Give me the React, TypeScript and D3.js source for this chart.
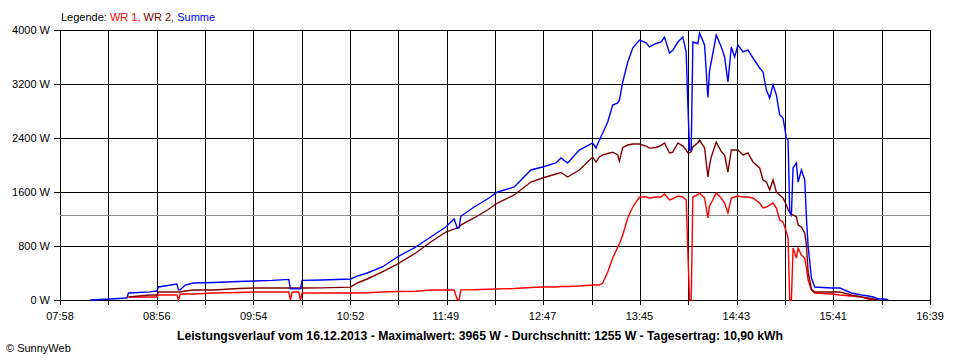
import React from "react";
import * as d3 from "d3";

const TIMES = [
  "08:16","08:28","08:38","08:39","08:52","08:56","08:57","09:08","09:09","09:10",
  "09:13","09:18","09:30","09:45","09:54","10:05","10:15","10:16","10:17","10:21",
  "10:22","10:23","10:35","10:52","10:56","11:02","11:11","11:20","11:31","11:40",
  "11:49","11:54","11:56","11:57","11:58","12:06","12:14","12:20","12:30","12:40",
  "12:47","12:55","12:58","13:02","13:09","13:17","13:19","13:21","13:23","13:26",
  "13:29","13:32","13:33","13:35","13:38","13:41","13:45","13:49","13:51","13:55",
  "13:58","14:00","14:03","14:05","14:08","14:11","14:13","14:14","14:15","14:16",
  "14:17","14:20","14:21","14:24","14:26","14:27","14:28","14:31","14:34","14:36",
  "14:38","14:40","14:42","14:44","14:47","14:50","14:53","14:57","14:59","15:01",
  "15:03","15:05","15:07","15:09","15:11","15:13","15:14","15:15","15:16","15:17",
  "15:19","15:20","15:22","15:24","15:25","15:26","15:28","15:30","15:40","15:45",
  "15:52","15:58","16:02","16:05","16:08","16:12","16:14"
];

const WR1: (number | null)[] = [
  null,null,null,44,44,44,74,74,0,89,
  89,89,104,111,118,118,118,0,118,118,
  0,104,104,104,104,108,118,125,130,148,
  148,148,0,0,150,152,160,163,170,185,
  193,193,200,200,207,222,222,222,252,415,
  622,785,830,963,1215,1378,1526,1526,1511,1526,
  1526,1570,1481,1500,1541,1526,1481,711,0,0,
  1526,1560,1585,1511,1215,1400,1437,1585,1511,1437,
  1289,1511,1526,1541,1526,1526,1511,1437,1363,1378,
  1407,1437,1363,1185,1156,1007,919,0,0,770,
  622,770,667,622,474,296,148,104,89,74,
  59,44,15,0,null,null,null
];

const WR2: (number | null)[] = [
  null,null,null,44,74,74,119,119,119,118,
  133,148,148,170,178,178,178,178,178,178,
  178,178,180,190,252,311,415,533,696,859,
  1007,1050,1070,1075,1111,1215,1333,1437,1556,1748,
  1807,1867,1890,1822,1926,2119,2044,2119,2150,2170,
  2190,2148,2060,2260,2296,2311,2311,2280,2250,2260,
  2290,2326,2178,2190,2326,2280,2220,2180,2180,2200,
  2267,2330,2370,2252,1822,2000,2119,2341,2200,2148,
  1896,2222,2222,2222,2148,2178,2044,1956,1778,1748,
  1630,1778,1600,1556,1511,1407,1333,1304,1259,1259,
  1230,1111,1081,993,815,415,160,119,119,119,
  74,44,30,15,0,null,null
];

const SUMME: (number | null)[] = [
  0,15,30,104,120,133,193,237,150,150,
  222,252,260,275,281,290,305,165,165,165,
  165,290,296,311,355,400,489,637,785,933,
  1081,1200,1060,1070,1240,1378,1496,1600,1674,1926,
  1970,2030,2104,2030,2222,2326,2252,2370,2474,2637,
  2889,2919,2960,3230,3526,3733,3852,3810,3750,3800,
  3822,3896,3659,3700,3822,3896,3674,2889,2222,2222,
  3822,3800,3956,3778,3000,3400,3526,3926,3750,3600,
  3230,3748,3600,3778,3674,3704,3585,3437,3378,3111,
  2993,3185,3037,2741,2696,2400,2370,1304,1259,1955,
  2030,1748,1926,1778,1215,800,326,193,178,178,
  104,74,59,44,15,15,0
];

const X_TICKS = ["07:58","08:56","09:54","10:52","11:49","12:47","13:45","14:43","15:41","16:39"];
const Y_TICKS = [0, 800, 1600, 2400, 3200, 4000];
const AVERAGE = 1255;
const TITLE = "Leistungsverlauf vom 16.12.2013 - Maximalwert: 3965 W - Durchschnitt: 1255 W - Tagesertrag: 10,90 kWh";

const SERIES = [
  { name: "WR 1", values: WR1, color: "#ff0000" },
  { name: "WR 2", values: WR2, color: "#800000" },
  { name: "Summe", values: SUMME, color: "#0000ff" },
];

const toMin = (s: string) => {
  const [h, m] = s.split(":").map(Number);
  return h * 60 + m;
};

export default function App() {
  const W = 960, H = 360;
  const left = 60, right = 930, top = 30, bottom = 300;
  const font = "'Liberation Sans', Arial, sans-serif";

  const x = d3.scaleLinear().domain([toMin(X_TICKS[0]), toMin(X_TICKS[X_TICKS.length - 1])]).range([left, right]);
  const y = d3.scaleLinear().domain([0, 4000]).range([bottom, top]);

  const [d0, d1] = x.domain();
  const gridTimes = d3.range(19).map((k) => d0 + (k * (d1 - d0)) / 18);
  const px = (v: number) => Math.round(v) + 0.5;

  const tmins = TIMES.map(toMin);

  const line = d3
    .line<number | null>()
    .defined((d) => d !== null)
    .x((_, i) => x(tmins[i]))
    .y((d) => y(d as number))
    .curve(d3.curveLinear);

  return (
    <svg
      width={W}
      height={H}
      style={{ position: "absolute", left: 0, top: 0, background: "#fff" }}
      fontFamily={font}
    >
      <rect x={0} y={0} width={W} height={H} fill="#fff" />
      {/* vertical grid */}
      {gridTimes.map((t, i) => (
        <line key={"vg" + i} x1={px(x(t))} x2={px(x(t))} y1={top} y2={bottom + 5} stroke="#000" strokeWidth={1} shapeRendering="crispEdges" />
      ))}
      {/* horizontal grid */}
      {Y_TICKS.map((v) => (
        <line key={"hg" + v} x1={left - 6} x2={right + 0.5} y1={px(y(v))} y2={px(y(v))} stroke="#000" strokeWidth={1} shapeRendering="crispEdges" />
      ))}
      {/* average line */}
      <line x1={left} x2={right} y1={px(y(AVERAGE))} y2={px(y(AVERAGE))} stroke="#8c8c8c" strokeWidth={1} shapeRendering="crispEdges" />
      {/* series */}
      {SERIES.map((s) => (
        <path key={s.name} d={line(s.values) || ""} fill="none" stroke={s.color} strokeWidth={1.4} strokeLinejoin="miter" />
      ))}
      {/* y labels */}
      {Y_TICKS.map((v) => (
        <text key={"yl" + v} x={50} y={y(v) + 4} textAnchor="end" fontSize={11} fill="#000">
          {v + " W"}
        </text>
      ))}
      {/* x labels */}
      {X_TICKS.map((l) => (
        <text key={"xl" + l} x={x(toMin(l))} y={320} textAnchor="middle" fontSize={11} fill="#000">
          {l}
        </text>
      ))}
      {/* legend */}
      <text x={61} y={21} fontSize={11}>
        <tspan fill="#000">Legende: </tspan>
        <tspan fill="#ff0000">WR 1, </tspan>
        <tspan fill="#800000">WR 2, </tspan>
        <tspan fill="#0000ff">Summe</tspan>
      </text>
      {/* title */}
      <text x={480} y={340} textAnchor="middle" fontSize={12} fontWeight="bold" textLength={606} lengthAdjust="spacingAndGlyphs">
        {TITLE}
      </text>
      <text x={6} y={352} fontSize={11} fill="#000">© SunnyWeb</text>
    </svg>
  );
}
